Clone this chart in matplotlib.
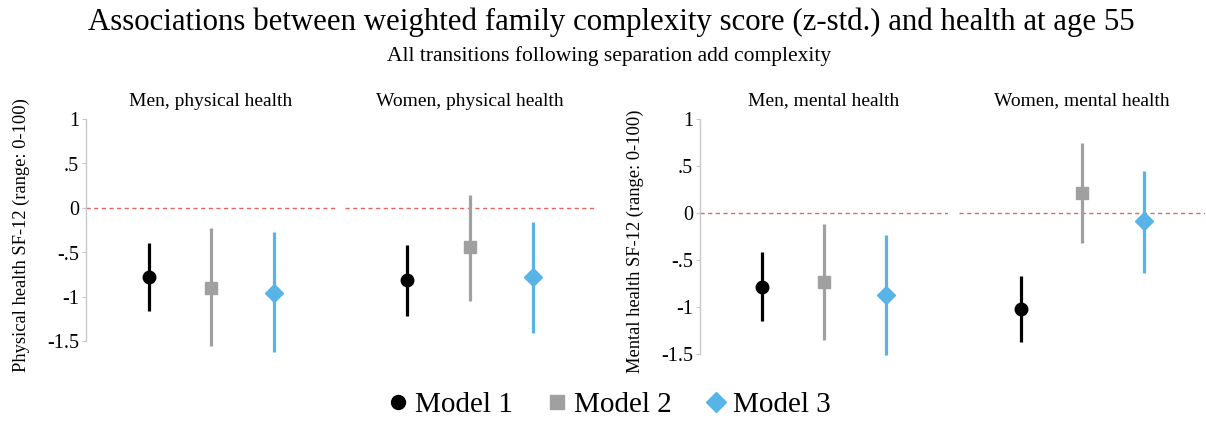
import matplotlib
matplotlib.use("Agg")
import matplotlib.pyplot as plt
from matplotlib.lines import Line2D

plt.rcParams['font.family'] = ['Liberation Serif', 'DejaVu Serif']

# --- data ---
models = ["Model 1", "Model 2", "Model 3"]
panels = ["Men, physical health", "Women, physical health",
          "Men, mental health", "Women, mental health"]

est_men_phys = [-0.78, -0.90, -0.95]
lo_men_phys = [-1.16, -1.55, -1.62]
hi_men_phys = [-0.39, -0.23, -0.27]

est_wom_phys = [-0.81, -0.44, -0.78]
lo_wom_phys = [-1.21, -1.04, -1.41]
hi_wom_phys = [-0.42, 0.15, -0.16]

est_men_ment = [-0.79, -0.73, -0.87]
lo_men_ment = [-1.15, -1.35, -1.51]
hi_men_ment = [-0.42, -0.12, -0.23]

est_wom_ment = [-1.02, 0.21, -0.09]
lo_wom_ment = [-1.37, -0.32, -0.64]
hi_wom_ment = [-0.67, 0.74, 0.45]

yticks = [1, 0.5, 0, -0.5, -1, -1.5]
ytick_labels = ["1", ".5", "0", "-.5", "-1", "-1.5"]

colors = ["#000000", "#a0a0a0", "#58b4e6"]
markers = ["o", "s", "D"]
msizes = [9, 8.5, 9]

W, H = 1206, 423
fig = plt.figure(figsize=(W / 100, H / 100), dpi=100)

def ax_at(left, top, right, bottom):
    return fig.add_axes([left / W, 1 - bottom / H, (right - left) / W, (bottom - top) / H])

ylim = (-1.7, 1.1)
# pixel boxes: left group 89 px/unit (0 at y=208), right group 94 px/unit (0 at y=213)
def box(left, width, zero, ppu):
    return ax_at(left, zero - ylim[1] * ppu, left + width, zero - ylim[0] * ppu)

axes = [box(86, 250, 208, 89), box(345, 250, 208, 89),
        box(700, 248, 213, 94), box(959, 246, 213, 94)]

data = [(est_men_phys, lo_men_phys, hi_men_phys),
        (est_wom_phys, lo_wom_phys, hi_wom_phys),
        (est_men_ment, lo_men_ment, hi_men_ment),
        (est_wom_ment, lo_wom_ment, hi_wom_ment)]

for i, (ax, (est, lo, hi)) in enumerate(zip(axes, data)):
    ax.set_xlim(0, 4)
    ax.set_ylim(*ylim)
    ax.axhline(0, color="#e06666", lw=1.0, ls=(0, (3, 2.5)), zorder=1)
    for j in range(3):
        x = j + 1
        ax.plot([x, x], [lo[j], hi[j]], color=colors[j], lw=2.3, zorder=2,
                solid_capstyle="butt")
        ax.plot(x, est[j], marker=markers[j], color=colors[j], ms=msizes[j],
                mec=colors[j], ls="none", zorder=3)
    for s in ["top", "right", "bottom"]:
        ax.spines[s].set_visible(False)
    ax.set_xticks([])
    ax.set_title(panels[i], fontsize=14, pad=3)
    if i in (0, 2):
        ax.spines["left"].set_color("#c8c8c8")
        ax.spines["left"].set_linewidth(1.0)
        ax.spines["left"].set_bounds(-1.5, 1)
        ax.set_yticks(yticks)
        ax.set_yticklabels(ytick_labels, fontsize=14.5)
        ax.tick_params(axis="y", length=3, width=0.8, color="#c8c8c8", pad=2)
    else:
        ax.spines["left"].set_visible(False)
        ax.set_yticks([])
    ax.patch.set_alpha(0)

axes[0].set_ylabel("Physical health SF-12 (range: 0-100)", fontsize=13.3, labelpad=12)
axes[2].set_ylabel("Mental health SF-12 (range: 0-100)", fontsize=13.3, labelpad=12)

fig.text(611 / W, 1 - 22 / H, "Associations between weighted family complexity score (z-std.) and health at age 55",
         ha="center", va="center", fontsize=22.2)
fig.text(609 / W, 1 - 56 / H, "All transitions following separation add complexity",
         ha="center", va="center", fontsize=15.5)

handles = [Line2D([], [], marker=markers[j], color=colors[j], ls="none", ms=msizes[j] + 1)
           for j in range(3)]
fig.legend(handles, models, loc="center", bbox_to_anchor=(607 / W, 1 - 405 / H), ncol=3,
           frameon=False, fontsize=21, handletextpad=0.1, columnspacing=1.0,
           handlelength=1.0)

fig.savefig("out.png", dpi=100)
